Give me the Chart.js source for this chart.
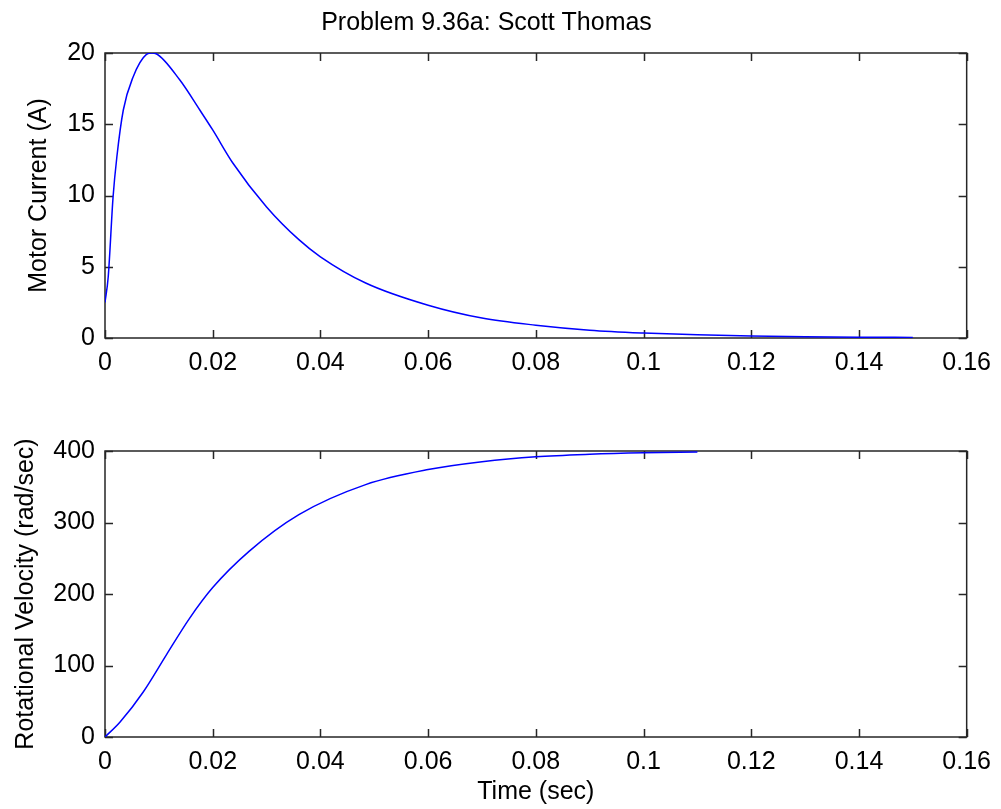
<!DOCTYPE html>
<html>
<head>
<meta charset="utf-8">
<script src="https://cdn.jsdelivr.net/npm/chart.js@4"></script>
<style>
    body { margin: 0; background: #fff; width: 1001px; height: 809px; overflow: hidden; }
    canvas { position: absolute; left: 0; }
    #currentChart { top: 0; }
    #velocityChart { top: 400px; }
</style>
</head>
<body>
<canvas id="currentChart" width="1001" height="400"></canvas>
<canvas id="velocityChart" width="1001" height="409"></canvas>
<script>
// 电机电流 (上图)
const currentTime = [0, 0.0006, 0.0015, 0.0022, 0.0034, 0.0052, 0.0077, 0.0087, 0.0095, 0.0139, 0.0176, 0.020, 0.0237,
    0.030, 0.036, 0.040, 0.0484, 0.060, 0.070, 0.080, 0.090, 0.100, 0.110, 0.120, 0.130, 0.140, 0.150];
const currentValues = [2.5, 4.3, 9.9, 12.7, 16.0, 18.3, 19.9, 20.0, 19.95, 18.1, 16.0, 14.6, 12.3,
    9.2, 6.9, 5.7, 3.86, 2.3, 1.4, 0.9, 0.55, 0.35, 0.22, 0.14, 0.09, 0.06, 0.04];

// 转速 (下图)
const velocityTime = [0, 0.0028, 0.0071, 0.0114, 0.0157, 0.020, 0.0268, 0.036, 0.0484, 0.060, 0.070, 0.080, 0.090, 0.100, 0.110];
const velocityValues = [0, 21, 63, 115, 166, 209, 260, 311, 353, 374, 385, 392, 395.5, 397.5, 398.5];

// 刻度
const xTicks = [0, 0.02, 0.04, 0.06, 0.08, 0.1, 0.12, 0.14, 0.16];
const xTickLabels = ['0', '0.02', '0.04', '0.06', '0.08', '0.1', '0.12', '0.14', '0.16'];
const currentTicks = [0, 5, 10, 15, 20];
const velocityTicks = [0, 100, 200, 300, 400];

Chart.defaults.font.family = '"Liberation Sans", Arial, sans-serif';
Chart.defaults.font.size = 25;
Chart.defaults.color = '#000';

// MATLAB 风格的边框和向内刻度
const boxPlugin = {
    id: 'matlabBox',
    beforeDatasetsDraw(chart) {
        const { ctx, chartArea: a, scales } = chart;
        const len = 8;
        ctx.save();
        ctx.strokeStyle = '#262626';
        ctx.lineWidth = 1.5;
        ctx.strokeRect(a.left, a.top, a.right - a.left, a.bottom - a.top);
        ctx.beginPath();
        scales.x.ticks.forEach(t => {
            const px = Math.round(scales.x.getPixelForValue(t.value)) + 0.5;
            ctx.moveTo(px, a.bottom); ctx.lineTo(px, a.bottom - len);
            ctx.moveTo(px, a.top); ctx.lineTo(px, a.top + len);
        });
        scales.y.ticks.forEach(t => {
            const py = Math.round(scales.y.getPixelForValue(t.value)) + 0.5;
            ctx.moveTo(a.left, py); ctx.lineTo(a.left + len, py);
            ctx.moveTo(a.right, py); ctx.lineTo(a.right - len, py);
        });
        ctx.stroke();
        ctx.restore();
    }
};

function makeChart(id, times, values, yTicks, yTitle, yTitlePad, opts) {
    return new Chart(document.getElementById(id), {
        type: 'line',
        data: {
            datasets: [{
                data: times.map((t, i) => ({ x: t, y: values[i] })),
                borderColor: '#0000ff',
                borderWidth: 1.5,
                pointRadius: 0,
                cubicInterpolationMode: 'monotone',
                fill: false
            }]
        },
        options: {
            responsive: false,
            animation: false,
            devicePixelRatio: 1,
            layout: { padding: { left: 0, right: 28, top: opts.padTop, bottom: 0 } },
            plugins: {
                legend: { display: false },
                tooltip: { enabled: false },
                title: opts.title ? {
                    display: true,
                    text: opts.title,
                    font: { size: 25, weight: 'normal' },
                    color: '#000',
                    padding: { top: 8, bottom: 15 }
                } : { display: false }
            },
            scales: {
                x: {
                    type: 'linear',
                    min: 0,
                    max: 0.16,
                    grid: { display: false, drawTicks: false },
                    border: { display: false },
                    afterBuildTicks: s => { s.ticks = xTicks.map(v => ({ value: v })); },
                    afterFit: s => { s.height = opts.xHeight; },
                    ticks: {
                        autoSkip: false,
                        maxRotation: 0,
                        padding: 10,
                        callback: (v, i) => xTickLabels[i]
                    },
                    title: opts.xTitle ? {
                        display: true,
                        text: opts.xTitle,
                        padding: { top: 0, bottom: 2 }
                    } : { display: false }
                },
                y: {
                    type: 'linear',
                    min: yTicks[0],
                    max: yTicks[yTicks.length - 1],
                    grid: { display: false, drawTicks: false },
                    border: { display: false },
                    afterBuildTicks: s => { s.ticks = yTicks.map(v => ({ value: v })); },
                    afterFit: s => { s.width = 105; },
                    ticks: { padding: 10 },
                    title: {
                        display: true,
                        text: yTitle,
                        padding: { top: yTitlePad, bottom: 0 }
                    }
                }
            }
        },
        plugins: [boxPlugin]
    });
}

makeChart('currentChart', currentTime, currentValues, currentTicks, 'Motor Current (A)', 24,
    { title: 'Problem 9.36a: Scott Thomas', padTop: 0, xHeight: 62 });
makeChart('velocityChart', velocityTime, velocityValues, velocityTicks, 'Rotational Velocity (rad/sec)', 11,
    { padTop: 51, xHeight: 72, xTitle: 'Time (sec)' });
</script>
</body>
</html>
